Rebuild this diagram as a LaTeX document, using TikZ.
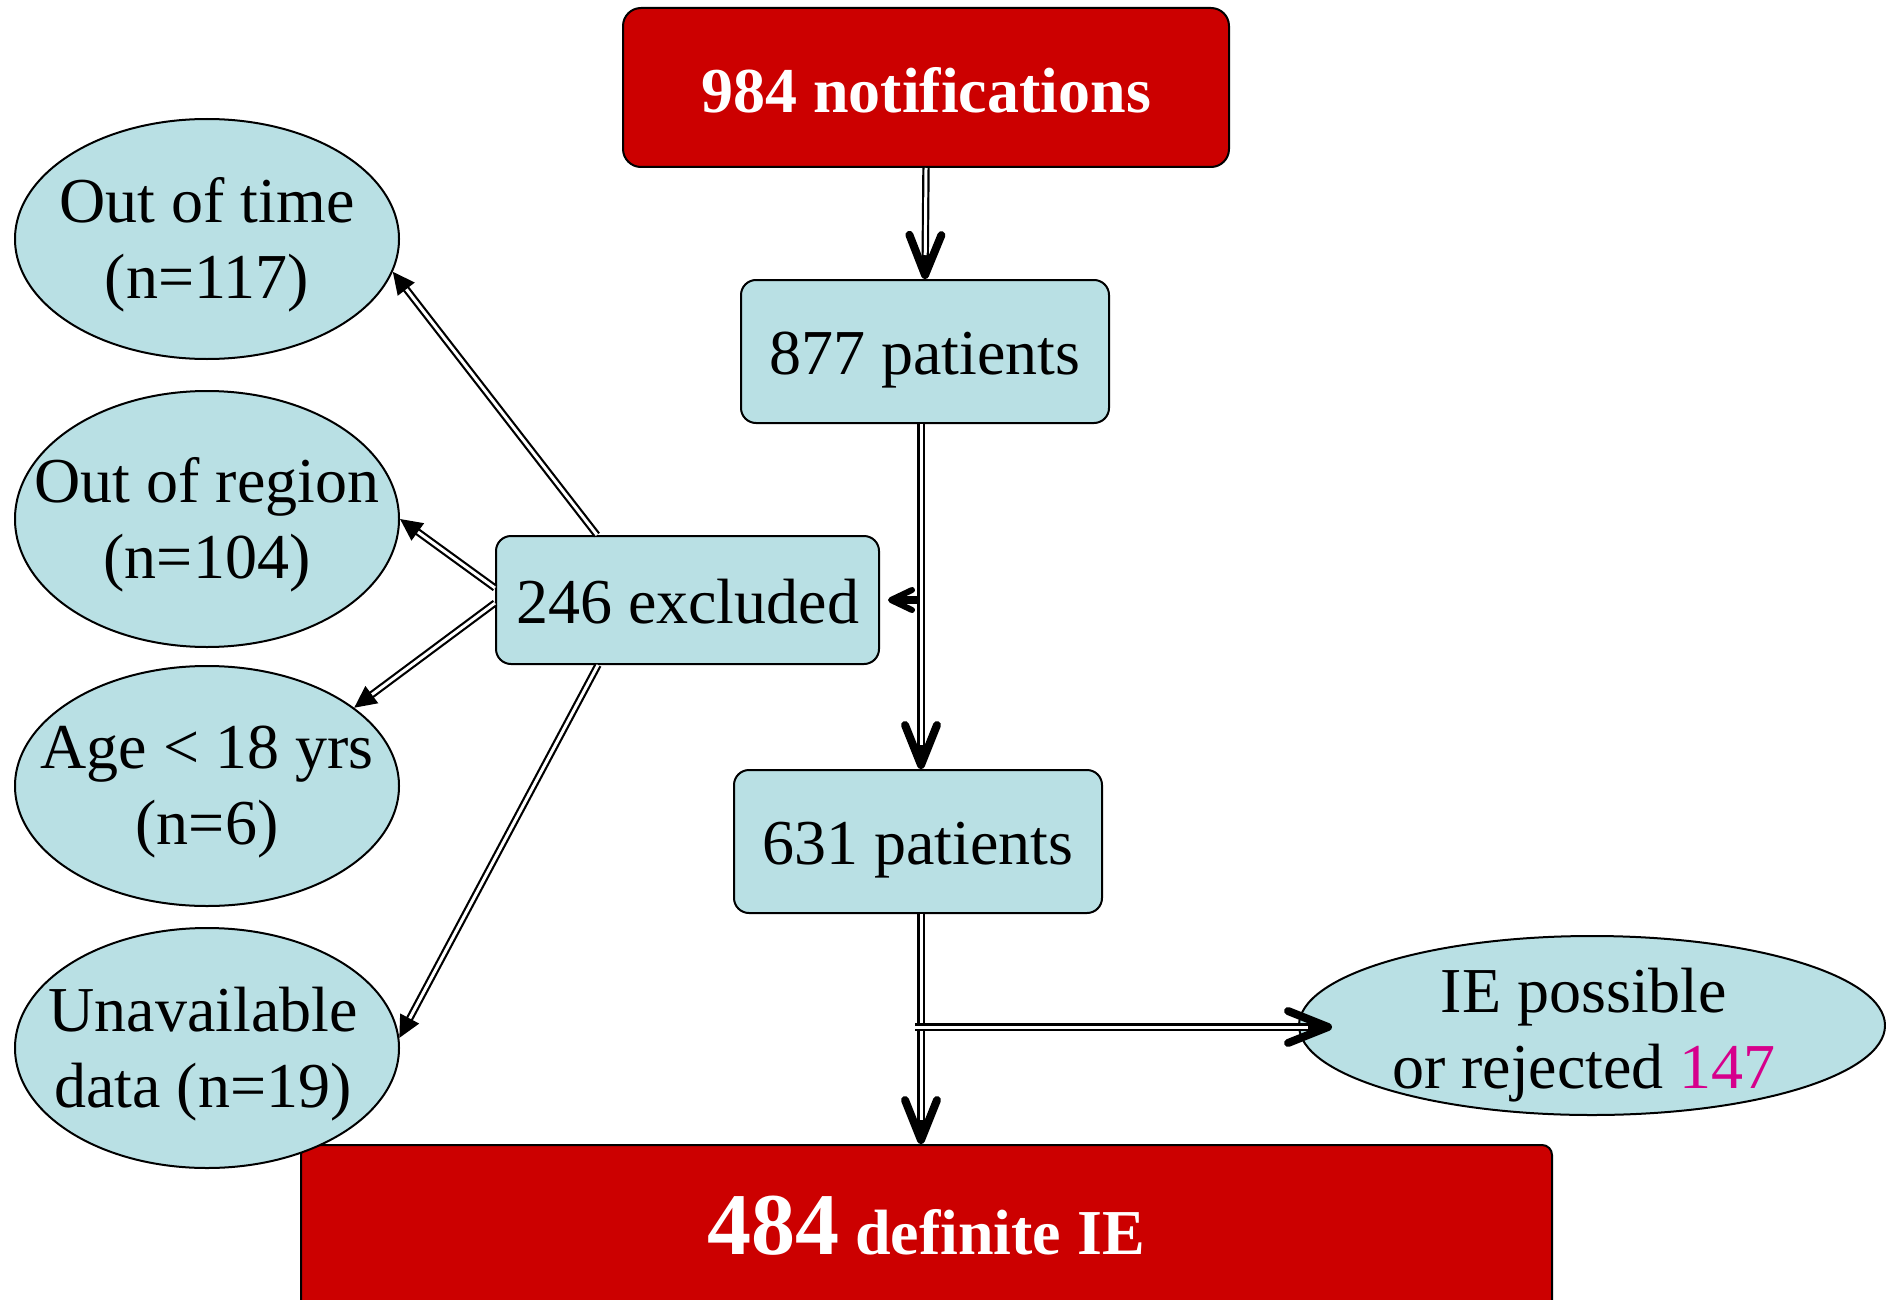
\documentclass[tikz,border=0pt]{standalone}
\usepackage{fontspec}
\setmainfont{Liberation Serif}
\usetikzlibrary{arrows.meta,shapes.geometric,calc}
\definecolor{boxred}{RGB}{204,0,0}
\definecolor{boxblue}{RGB}{185,224,228}
\definecolor{mag}{RGB}{214,0,140}
\begin{document}
\begin{tikzpicture}[x=1pt,y=-1pt,
  bluebox/.style={draw=black, line width=2pt, fill=boxblue, rounded corners=15pt, inner sep=0pt,
    font=\fontsize{64}{76}\selectfont, minimum width=368pt, minimum height=143pt,
    text height=46pt, text depth=0pt},
  redbox/.style={draw=black, line width=2pt, fill=boxred, rounded corners=18pt, inner sep=0pt,
    font=\fontsize{64}{76}\selectfont\bfseries, text=white, text height=50pt, text depth=0pt},
  blueell/.style={draw=black, line width=2pt, fill=boxblue, ellipse, inner sep=0pt},
  txt/.style={font=\fontsize{64}{76}\selectfont, align=center, inner sep=0pt},
  wtxt/.style={font=\fontsize{64}{76}\selectfont\bfseries, text=white, inner sep=0pt},
  dbl/.style={draw=black, double=white, line width=2.2pt, double distance=3pt},
  dblout/.style={draw=black, line width=7.4pt},
  dblin/.style={draw=white, line width=3pt},
  bigv/.style={-{Straight Barb[length=40pt,width=32pt,line width=8pt,round]}},
  smallv/.style={-{Straight Barb[length=21pt,width=20pt,line width=6pt,round]}},
  tri/.style={-{Triangle[length=22pt,width=21pt]}},
]
\path[use as bounding box, clip] (0,0) rectangle (1886,1300);

% boxes
\node[redbox, minimum width=606pt, minimum height=159pt] (top) at (926,87.5) {984 notifications};
\node[bluebox] (p877) at (925,351.5) {877 patients};
\node[bluebox, minimum width=383pt, minimum height=128pt] (ex) at (687.5,600) {246 excluded};
\node[bluebox] (p631) at (918,841.5) {631 patients};
\node[redbox, rounded corners=10pt, minimum width=1251pt, minimum height=200pt, anchor=north] (def) at (926.5,1144) {};
\node[wtxt, anchor=base] (deft) at (926,1254) {{\fontsize{88}{90}\selectfont 484} definite IE};

% ellipses
\node[blueell, minimum width=384pt, minimum height=240pt] (ot) at (207,239) {};
\node[txt] (ott) at ($(ot)+(0,6)$) {Out of time\\(n=117)};
\node[blueell, minimum width=384pt, minimum height=256pt] (oreg) at (207,519) {};
\node[txt] (oregt) at ($(oreg)+(0,6)$) {Out of region\\(n=104)};
\node[blueell, minimum width=384pt, minimum height=240pt] (age) at (207,786) {};
\node[txt] (aget) at ($(age)+(0,6)$) {Age < 18 yrs\\(n=6)};
\node[blueell, minimum width=384pt, minimum height=240pt] (un) at (207,1048) {};
\node[txt] (unt) at ($(un)+(-4,6)$) {Unavailable\\data (n=19)};
\node[blueell, minimum width=586pt, minimum height=179pt] (iep) at (1592,1025.5) {};
\node[txt] (iept) at (1584,1035) {IE possible\\or rejected \textcolor{mag}{147}};

% main flow (double lines drawn in two passes so the open heads stay solid)
\coordinate (vx) at (921,0);
\draw[dblout, bigv] (top.south) -- (p877.north);
\draw[dblin, shorten >=24pt] (top.south) -- (p877.north);

\draw[dblout, bigv] (p877.south -| vx) -- (p631.north -| vx);
\draw[dblin, shorten >=24pt] (p877.south -| vx) -- (p631.north -| vx);

\draw[dblout, smallv, shorten >=8pt] ($(ex.east -| vx)+(-3.7,0)$) -- (ex.east);

\draw[dblout, bigv] (p631.south -| vx) -- (def.north -| vx);
\draw[dblin, shorten >=24pt] (p631.south -| vx) -- (def.north -| vx);

\draw[dblout, bigv] ($(iep.west -| vx)+(-6,1.5)$) -- ($(iep.west)+(34,1.5)$);
\draw[dblin, shorten >=24pt] ($(iep.west -| vx)+(-6,1.5)$) -- ($(iep.west)+(34,1.5)$);

% exclusions
\draw[dbl, tri] ($(ex.north west)+(102,0)$) -- (ot.-10);
\draw[dbl, tri] ($(ex.west)+(0,-12)$) -- (oreg.east);
\draw[dbl, tri] ($(ex.west)+(0,3)$) -- (age.28);
\draw[dbl, tri] ($(ex.south west)+(103,0)$) -- (un.3);
\end{tikzpicture}
\end{document}
